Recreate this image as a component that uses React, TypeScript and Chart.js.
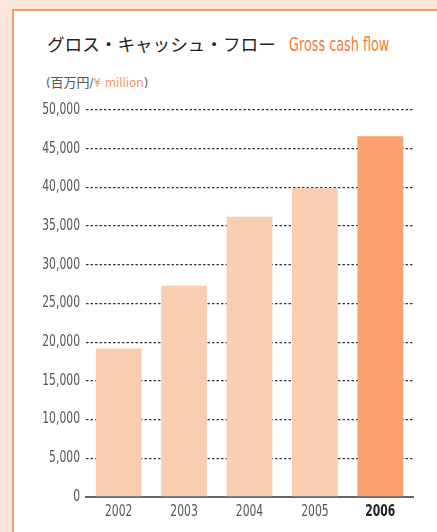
import React, { useEffect, useRef } from "react";
import { Chart, registerables } from "chart.js";

Chart.register(...registerables);

const years = ["2002", "2003", "2004", "2005", "2006"];
const cashFlow = [19200, 27300, 36200, 39900, 46600];
const barColors = ["#f9cdb0", "#f9cdb0", "#f9cdb0", "#f9cdb0", "#f9a06c"];
const yMax = 50000;
const yStep = 5000;

const COND = "'DejaVu Sans Condensed', 'DejaVu Sans', sans-serif";
const ORANGE = "#f47b3c";
const SQUEEZE = 0.8;

const narrowLabels = {
  id: "narrowLabels",
  afterDraw(chart: any) {
    const ctx = chart.ctx;
    const area = chart.chartArea;
    const y = chart.scales.y;
    const x = chart.scales.x;
    ctx.save();
    ctx.font = `15px ${COND}`;
    ctx.textBaseline = "middle";
    ctx.textAlign = "right";
    ctx.fillStyle = "#555";
    y.ticks.forEach((t: any) => {
      const py = y.getPixelForValue(t.value);
      ctx.save();
      ctx.translate(area.left - 6, py);
      ctx.scale(SQUEEZE, 1);
      ctx.fillText(Number(t.value).toLocaleString("en-US"), 0, 0);
      ctx.restore();
    });
    ctx.textAlign = "center";
    ctx.textBaseline = "top";
    chart.data.labels.forEach((lab: string, i: number) => {
      const px = x.getPixelForValue(i);
      const last = i === chart.data.labels.length - 1;
      ctx.font = `${last ? "bold " : ""}15px ${COND}`;
      ctx.fillStyle = last ? "#222" : "#555";
      ctx.save();
      ctx.translate(px, area.bottom + 8);
      ctx.scale(SQUEEZE, 1);
      ctx.fillText(lab, 0, 0);
      ctx.restore();
    });
    ctx.restore();
  },
};

export default function App() {
  const ref = useRef<HTMLCanvasElement | null>(null);

  useEffect(() => {
    if (!ref.current) return;
    const chart = new Chart(ref.current, {
      type: "bar",
      data: {
        labels: years,
        datasets: [
          {
            data: cashFlow,
            backgroundColor: barColors,
            borderWidth: 0,
            barPercentage: 0.7,
            categoryPercentage: 1,
          },
        ],
      },
      options: {
        animation: false,
        responsive: false,
        maintainAspectRatio: false,
        layout: { padding: { left: 0, right: 24, top: 110, bottom: 10 } },
        plugins: { legend: { display: false }, tooltip: { enabled: false } },
        scales: {
          x: {
            grid: { display: false, drawTicks: false },
            border: { display: true, color: "#666", width: 2 },
            ticks: { display: false },
            afterFit: (s: any) => {
              s.height = 25;
            },
          },
          y: {
            min: 0,
            max: yMax,
            grid: {
              color: "#333",
              lineWidth: 1.3,
              drawTicks: false,
            },
            border: { display: false, dash: [2.5, 2] },
            ticks: { stepSize: yStep, display: false },
            afterFit: (s: any) => {
              s.width = 86;
            },
          },
        },
      },
      plugins: [narrowLabels],
    });
    return () => chart.destroy();
  }, []);

  return (
    <div
      style={{
        position: "fixed",
        left: 0,
        top: 0,
        width: 437,
        height: 532,
        overflow: "hidden",
        background: "#fde7da",
      }}
    >
      <div
        style={{
          position: "absolute",
          left: 12,
          top: 9,
          width: 500,
          height: 600,
          background: "#ffffff",
          borderLeft: "2px solid #f39a6a",
          borderTop: "2px solid #f39a6a",
        }}
      />
      <div
        style={{
          position: "absolute",
          left: 47,
          top: 31,
          whiteSpace: "nowrap",
          lineHeight: "26px",
          fontFamily: "'Noto Sans CJK JP', sans-serif",
          fontSize: 17.6,
          color: "#231f20",
        }}
      >
        グロス・キャッシュ・フロー
      </div>
      <div
        style={{
          position: "absolute",
          left: 289,
          top: 31,
          whiteSpace: "nowrap",
          lineHeight: "26px",
          fontFamily: COND,
          fontSize: 19,
          color: ORANGE,
          transform: "scaleX(0.75)",
          transformOrigin: "left center",
        }}
      >
        Gross cash flow
      </div>
      <div
        style={{
          position: "absolute",
          left: 46,
          top: 73,
          whiteSpace: "nowrap",
          lineHeight: "18px",
          color: "#555",
        }}
      >
        <span style={{ fontFamily: COND, fontSize: 13 }}>(</span>
        <span style={{ fontFamily: "'Noto Sans CJK JP', sans-serif", fontSize: 13 }}>
          百万円
        </span>
        <span style={{ fontFamily: COND, fontSize: 13 }}>/</span>
        <span style={{ fontFamily: COND, fontSize: 13, color: "#f7925a" }}>¥ million</span>
        <span style={{ fontFamily: COND, fontSize: 13 }}>)</span>
      </div>
      <canvas
        ref={ref}
        width={437}
        height={532}
        style={{ position: "absolute", left: 0, top: 0, width: 437, height: 532 }}
      />
    </div>
  );
}
